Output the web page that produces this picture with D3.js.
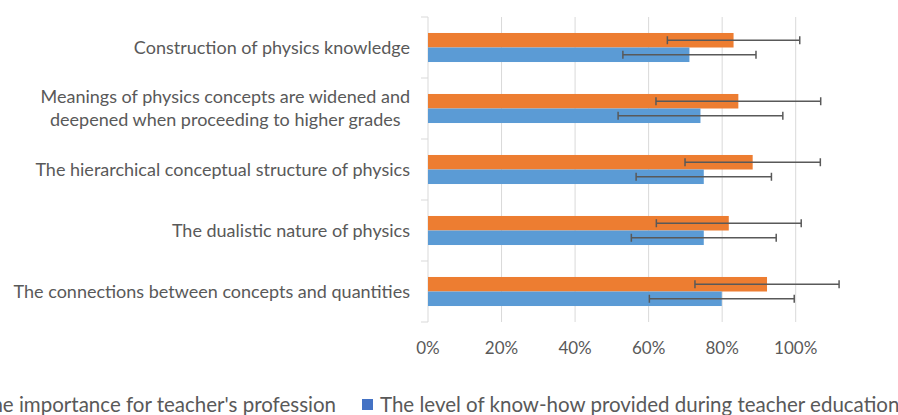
<!DOCTYPE html>
<html>
<head>
<meta charset="utf-8">
<script src="https://cdn.jsdelivr.net/npm/d3@7"></script>
<style>
  body { margin: 0; background: #fff; }
  svg { display: block; }
  text { font-family: Lato, "Open Sans", sans-serif; fill: #595959; }
</style>
</head>
<body>
<svg id="chart" width="898" height="415"></svg>
<script>
// categories, top to bottom
var categories = [
  "Construction of physics knowledge",
  "Meanings of physics concepts are widened and|deepened when proceeding to higher grades",
  "The hierarchical conceptual structure of physics",
  "The dualistic nature of physics",
  "The connections between concepts and quantities"
];
var seriesNames = ["The importance for teacher's profession", "The level of know-how provided during teacher education"];
var importance    = [83.1, 84.4, 88.3, 81.8, 92.2];
var importanceErr = [18.0, 22.4, 18.4, 19.7, 19.6];
var knowhow       = [71.1, 74.1, 75.0, 75.0, 79.9];
var knowhowErr    = [18.1, 22.4, 18.4, 19.7, 19.7];
var xTicks = [0, 20, 40, 60, 80, 100];

function drawChart() {
  var svg = d3.select("#chart");
  var plotL = 428, plotR = 795.7, plotT = 17, plotB = 322;

  var x = d3.scaleLinear().domain([0, 100]).range([plotL, plotR]);
  var y = d3.scaleBand().domain(categories).range([plotT, plotB]).padding(0);

  var band = y.bandwidth();
  var groupH = band * 0.476;
  var offset = (band - groupH) / 2;
  var barH = groupH / 2;

  // gridlines
  svg.append("g").selectAll("line")
    .data(xTicks.slice(1))
    .enter().append("line")
    .attr("x1", function(d) { return x(d); })
    .attr("x2", function(d) { return x(d); })
    .attr("y1", plotT).attr("y2", plotB)
    .attr("stroke", "#d9d9d9").attr("stroke-width", 1);

  // y axis line + ticks
  svg.append("line")
    .attr("x1", plotL).attr("x2", plotL).attr("y1", plotT).attr("y2", plotB)
    .attr("stroke", "#d9d9d9").attr("stroke-width", 1);
  svg.append("g").selectAll("line")
    .data(d3.range(categories.length + 1))
    .enter().append("line")
    .attr("x1", plotL - 7).attr("x2", plotL)
    .attr("y1", function(i) { return plotT + i * band; })
    .attr("y2", function(i) { return plotT + i * band; })
    .attr("stroke", "#d9d9d9").attr("stroke-width", 1);

  var series = [
    { vals: importance, errs: importanceErr, color: "#ED7D31", dy: 0 },
    { vals: knowhow, errs: knowhowErr, color: "#5B9BD5", dy: barH }
  ];

  series.forEach(function(s) {
    svg.append("g").selectAll("rect")
      .data(categories)
      .enter().append("rect")
      .attr("x", x(0))
      .attr("y", function(c) { return y(c) + offset + s.dy; })
      .attr("width", function(c, i) { return x(s.vals[i]) - x(0); })
      .attr("height", barH)
      .attr("fill", s.color);
  });

  // error bars on top
  series.forEach(function(s) {
    var g = svg.append("g").attr("stroke", "#595959").attr("stroke-width", 1.5);
    categories.forEach(function(c, i) {
      var cy = y(c) + offset + s.dy + barH / 2;
      var lo = x(s.vals[i] - s.errs[i]), hi = x(s.vals[i] + s.errs[i]);
      g.append("line").attr("x1", lo).attr("x2", hi).attr("y1", cy).attr("y2", cy);
      g.append("line").attr("x1", lo).attr("x2", lo).attr("y1", cy - 4).attr("y2", cy + 4);
      g.append("line").attr("x1", hi).attr("x2", hi).attr("y1", cy - 4).attr("y2", cy + 4);
    });
  });

  // category labels, lines centred, block right aligned
  var labels = svg.append("g").attr("font-size", "18px");
  categories.forEach(function(c) {
    var lines = c.split("|");
    var cy = y(c) + band / 2;
    var lh = 22.7;
    var texts = lines.map(function(l, j) {
      return labels.append("text")
        .attr("y", cy + (j - (lines.length - 1) / 2) * lh)
        .attr("dy", "0.35em")
        .text(l);
    });
    var w = d3.max(texts, function(tx) { return tx.node().getComputedTextLength(); });
    var cx = 410 - w / 2;
    texts.forEach(function(tx) { tx.attr("x", cx).attr("text-anchor", "middle"); });
  });

  // x tick labels
  svg.append("g").selectAll("text")
    .data(xTicks)
    .enter().append("text")
    .attr("x", function(d) { return x(d); })
    .attr("y", 348)
    .attr("dy", "0.35em")
    .attr("text-anchor", "middle")
    .attr("font-size", "17px")
    .text(function(d) { return d + "%"; });

  // legend (wider than the picture, so it gets clipped on both sides)
  var leg = svg.append("g").attr("font-size", "20.5px");
  var t0 = leg.append("text").attr("x", 336).attr("y", 404.5).attr("dy", "0.35em")
    .attr("text-anchor", "end").text(seriesNames[0]);
  var w0 = t0.node().getComputedTextLength();
  leg.append("rect").attr("x", 336 - w0 - 18).attr("y", 399).attr("width", 11).attr("height", 11).attr("fill", "#ED7D31");
  leg.append("rect").attr("x", 362).attr("y", 399).attr("width", 11).attr("height", 11).attr("fill", "#4472C4");
  leg.append("text").attr("x", 380).attr("y", 404.5).attr("dy", "0.35em")
    .text(seriesNames[1]);
}

drawChart();
</script>
</body>
</html>
